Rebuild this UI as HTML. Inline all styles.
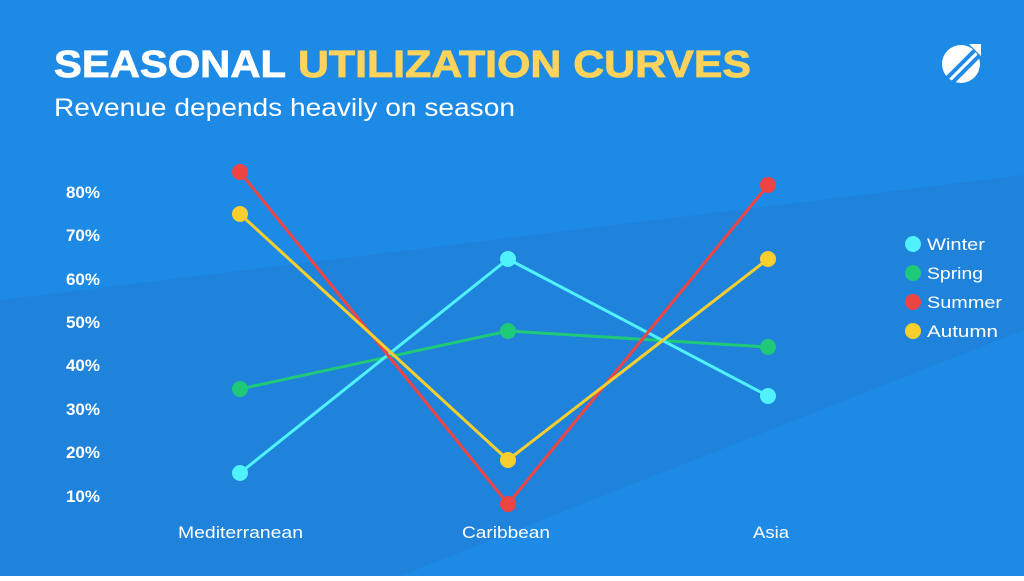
<!DOCTYPE html>
<html><head><style>
body{margin:0;width:1024px;height:576px;overflow:hidden;font-family:"Liberation Sans",sans-serif;}
</style></head><body>
<svg width="1024" height="576" viewBox="0 0 1024 576" xmlns="http://www.w3.org/2000/svg">
<rect width="1024" height="576" fill="#1d8ae6"/>
<polygon points="0,300 1024,175 1024,330 400,576 0,576" fill="#1f83dc"/>
<text x="54" y="77" font-size="38" font-weight="900" fill="#fff" stroke="#fff" stroke-width="0.8" textLength="232" lengthAdjust="spacingAndGlyphs">SEASONAL</text>
<text x="298" y="77" font-size="38" font-weight="900" fill="#fdd35b" stroke="#fdd35b" stroke-width="0.8" textLength="453" lengthAdjust="spacingAndGlyphs">UTILIZATION CURVES</text>
<text x="54" y="116" font-size="25" fill="#fff" textLength="461" lengthAdjust="spacingAndGlyphs">Revenue depends heavily on season</text>
<g transform="translate(961,64)">
<circle r="19" fill="#fff"/>
<path d="M-14,14 L14,-14 M-8,18 L18,-8" stroke="#1d8ae6" stroke-width="4"/>
<path d="M8,-20 L20,-20 L20,-8 Z" fill="#fff"/>
</g>
<g font-size="17" font-weight="bold" fill="#fff" text-anchor="end">
<text x="100" y="198">80%</text><text x="100" y="241">70%</text><text x="100" y="285">60%</text><text x="100" y="328">50%</text><text x="100" y="371">40%</text><text x="100" y="415">30%</text><text x="100" y="458">20%</text><text x="100" y="502">10%</text>
</g>
<g font-size="17" fill="#fff">
<text x="178" y="538" textLength="125" lengthAdjust="spacingAndGlyphs">Mediterranean</text>
<text x="462" y="538" textLength="88" lengthAdjust="spacingAndGlyphs">Caribbean</text>
<text x="753" y="538" textLength="36" lengthAdjust="spacingAndGlyphs">Asia</text>
</g>
<g stroke-width="3" fill="none">
<polyline points="240,389 508,331 768,347" stroke="#1ec978"/>
<polyline points="240,473 508,259 768,396" stroke="#4ff2fb"/>
<polyline points="240,172 508,504 768,185" stroke="#ef4444"/>
<polyline points="240,214 508,460 768,259" stroke="#f9cf2e"/>
</g>
<g fill="#1ec978"><circle cx="240" cy="389" r="8"/><circle cx="508" cy="331" r="8"/><circle cx="768" cy="347" r="8"/></g>
<g fill="#4ff2fb"><circle cx="240" cy="473" r="8"/><circle cx="508" cy="259" r="8"/><circle cx="768" cy="396" r="8"/></g>
<g fill="#ef4444"><circle cx="240" cy="172" r="8"/><circle cx="508" cy="504" r="8"/><circle cx="768" cy="185" r="8"/></g>
<g fill="#f9cf2e"><circle cx="240" cy="214" r="8"/><circle cx="508" cy="460" r="8"/><circle cx="768" cy="259" r="8"/></g>
<circle cx="913" cy="244" r="8" fill="#4ff2fb"/><circle cx="913" cy="273" r="8" fill="#1ec978"/><circle cx="913" cy="302" r="8" fill="#ef4444"/><circle cx="913" cy="331" r="8" fill="#f9cf2e"/>
<g font-size="17" fill="#fff">
<text x="927" y="250" textLength="58" lengthAdjust="spacingAndGlyphs">Winter</text>
<text x="927" y="279" textLength="56" lengthAdjust="spacingAndGlyphs">Spring</text>
<text x="927" y="308" textLength="75" lengthAdjust="spacingAndGlyphs">Summer</text>
<text x="927" y="337" textLength="71" lengthAdjust="spacingAndGlyphs">Autumn</text>
</g>
</svg>
</body></html>
